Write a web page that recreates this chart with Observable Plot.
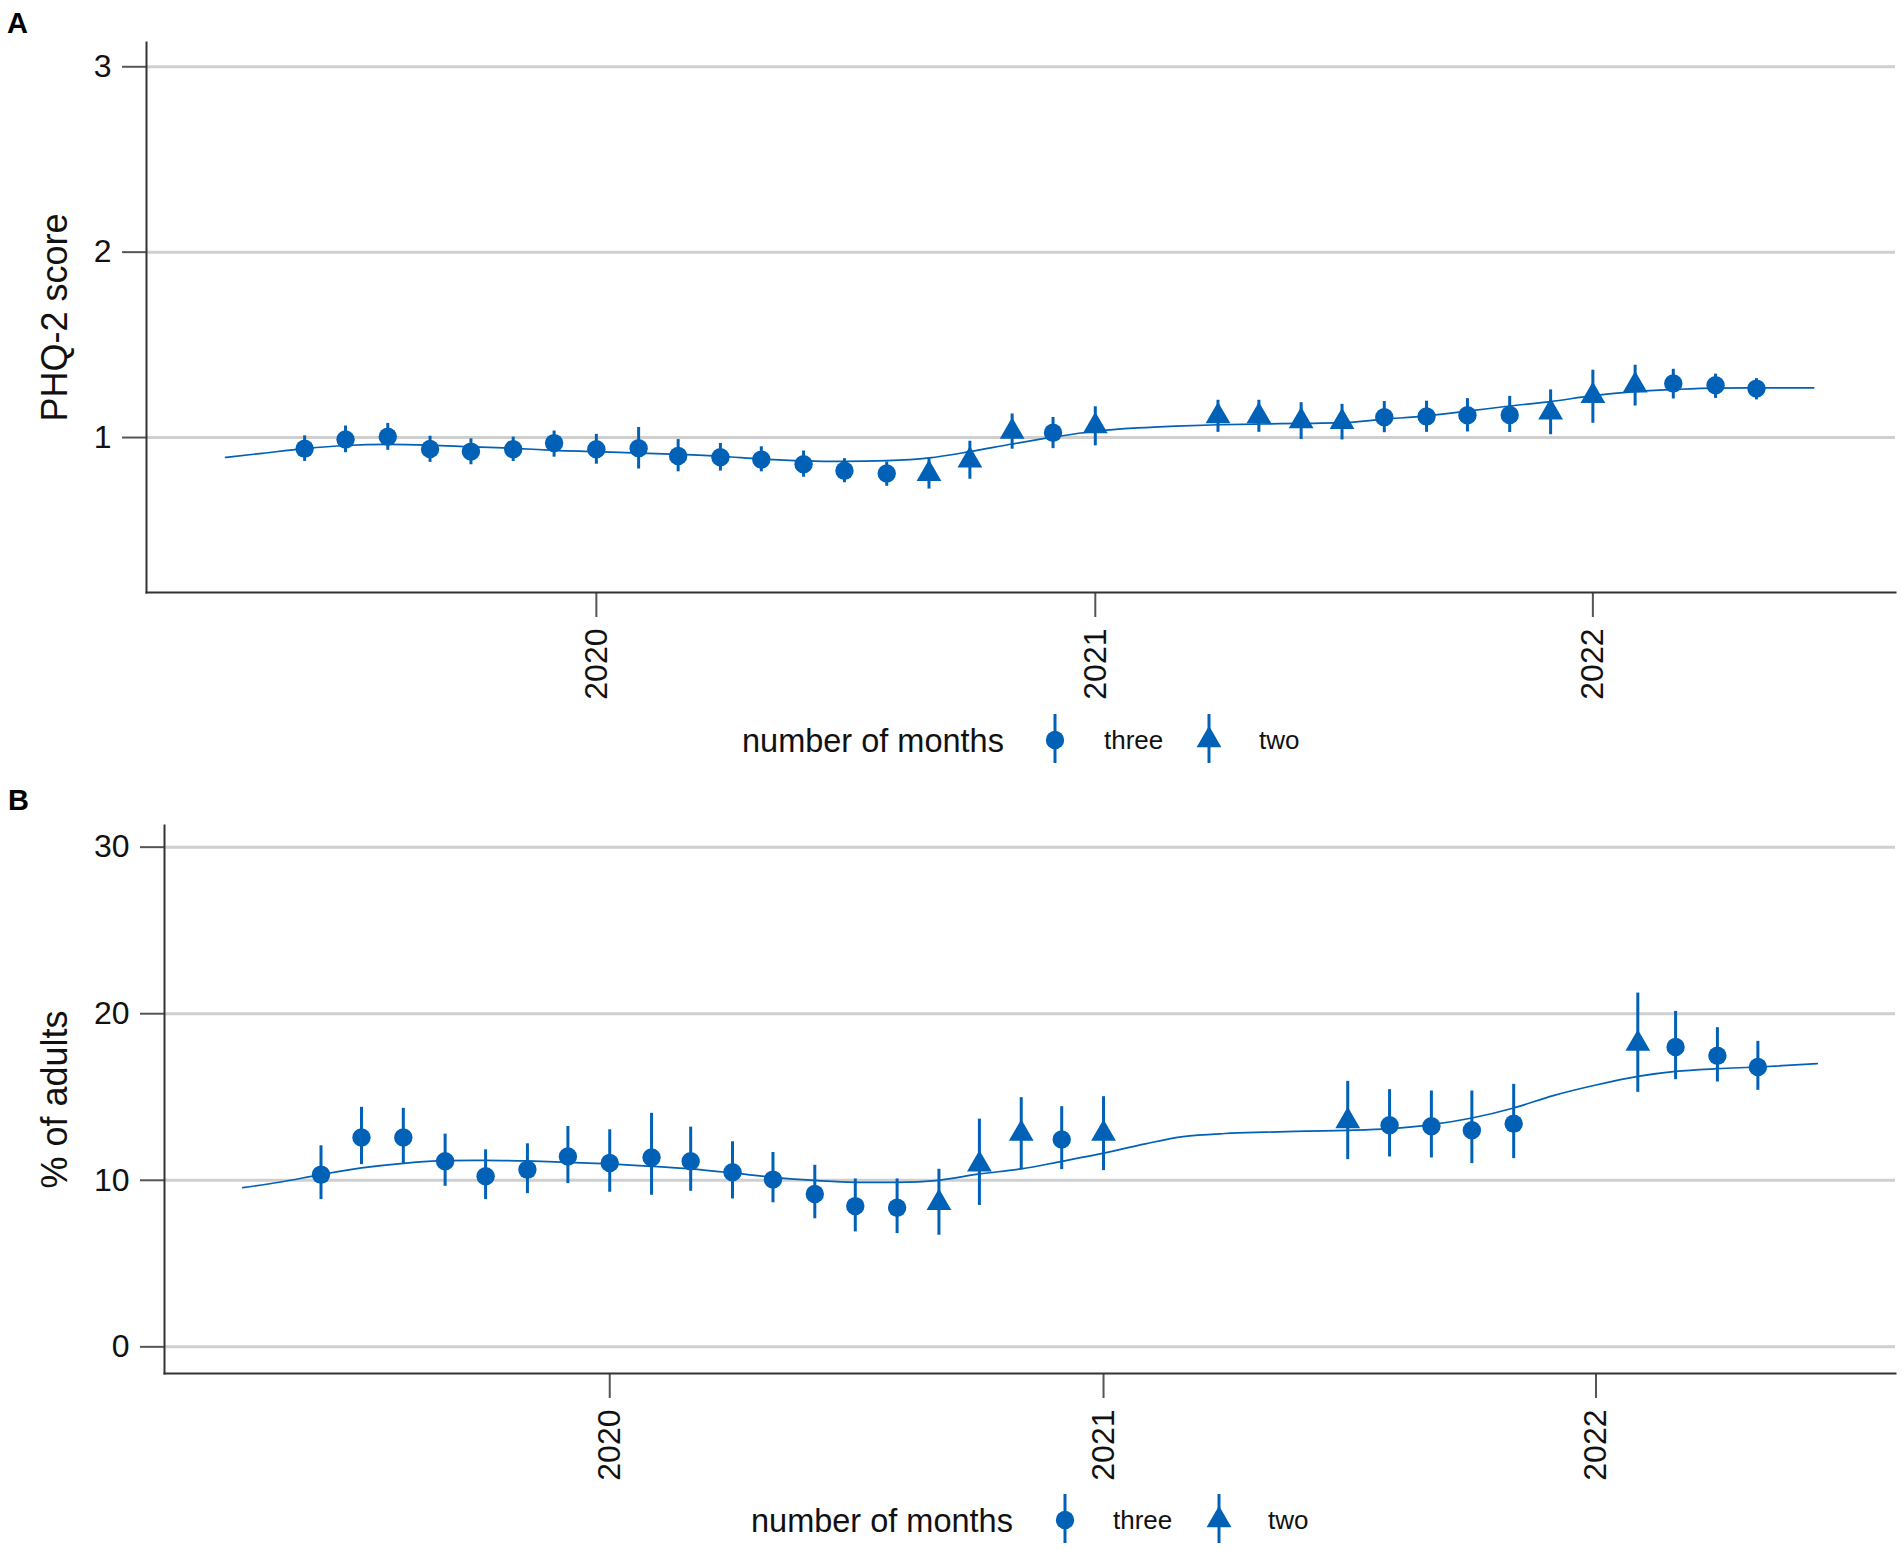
<!DOCTYPE html>
<html><head><meta charset="utf-8">
<script src="https://cdn.jsdelivr.net/npm/d3@7"></script>
<script src="https://cdn.jsdelivr.net/npm/@observablehq/plot@0.6"></script>
<style>
body{margin:0;background:#fff;}
#wrap{position:relative;width:1902px;height:1551px;overflow:hidden;background:#fff;font-family:"Liberation Sans",Arial,sans-serif;}
.panel{position:absolute;left:0;}
#overlay{position:absolute;left:0;top:0;pointer-events:none;}
</style></head><body><div id="wrap"></div>
<script>
// ---------- Panel A: PHQ-2 score ----------
const monthsA = ["2019-06","2019-07","2019-08","2019-09","2019-10","2019-11","2019-12","2020-01","2020-02","2020-03","2020-04","2020-05","2020-06","2020-07","2020-08","2020-09","2020-10","2020-11","2020-12","2021-01","2021-04","2021-05","2021-06","2021-07","2021-08","2021-09","2021-10","2021-11","2021-12","2022-01","2022-02","2022-03","2022-04","2022-05"];
const valuesA = [0.940,0.989,1.004,0.938,0.924,0.937,0.970,0.937,0.942,0.901,0.894,0.881,0.856,0.821,0.806,0.804,0.877,1.032,1.026,1.062,1.115,1.115,1.089,1.084,1.110,1.114,1.120,1.122,1.136,1.225,1.282,1.292,1.282,1.264];
const lowA    = [0.871,0.918,0.931,0.866,0.853,0.871,0.894,0.856,0.830,0.815,0.819,0.815,0.786,0.756,0.737,0.722,0.775,0.937,0.940,0.955,1.028,1.028,0.989,0.987,1.026,1.028,1.030,1.027,1.015,1.077,1.170,1.208,1.211,1.203];
const highA   = [1.009,1.062,1.076,1.007,0.993,1.002,1.035,1.017,1.054,0.989,0.968,0.950,0.927,0.886,0.868,0.886,0.980,1.127,1.108,1.166,1.201,1.201,1.188,1.179,1.194,1.196,1.210,1.222,1.257,1.363,1.390,1.368,1.342,1.318];
const typesA  = ["three","three","three","three","three","three","three","three","three","three","three","three","three","three","three","two","two","two","three","two","two","two","two","two","three","three","three","three","two","two","two","three","three","three"];
const smoothDatesA = ["2019-04-04","2019-05-01","2019-06-01","2019-07-01","2019-08-01","2019-09-01","2019-10-01","2019-11-01","2019-12-01","2020-01-01","2020-02-01","2020-03-01","2020-04-01","2020-05-01","2020-06-01","2020-07-01","2020-08-01","2020-09-01","2020-10-01","2020-11-01","2020-12-01","2021-01-01","2021-02-01","2021-03-01","2021-04-01","2021-05-01","2021-06-01","2021-07-01","2021-08-01","2021-09-01","2021-10-01","2021-11-01","2021-12-01","2022-01-01","2022-02-01","2022-03-01","2022-04-01","2022-05-01","2022-06-12"];
const smoothA = [0.893,0.915,0.940,0.957,0.963,0.959,0.950,0.942,0.931,0.924,0.916,0.909,0.899,0.884,0.874,0.871,0.875,0.890,0.924,0.965,1.002,1.034,1.052,1.062,1.069,1.073,1.076,1.080,1.099,1.117,1.142,1.170,1.194,1.226,1.248,1.259,1.267,1.268,1.268];
const yTicksA = [1, 2, 3];

// ---------- Panel B: % of adults ----------
const monthsB = ["2019-06","2019-07","2019-08","2019-09","2019-10","2019-11","2019-12","2020-01","2020-02","2020-03","2020-04","2020-05","2020-06","2020-07","2020-08","2020-09","2020-10","2020-11","2020-12","2021-01","2021-07","2021-08","2021-09","2021-10","2021-11","2022-02","2022-03","2022-04","2022-05"];
const valuesB = [10.34,12.57,12.57,11.14,10.24,10.64,11.43,11.04,11.37,11.14,10.48,10.04,9.18,8.45,8.35,8.65,10.95,12.80,12.45,12.80,13.55,13.30,13.24,13.00,13.40,18.20,18.00,17.48,16.80];
const lowB    = [8.84,10.94,11.00,9.64,8.84,9.20,9.80,9.28,9.10,9.34,8.88,8.65,7.69,6.90,6.80,6.70,8.49,10.64,10.64,10.58,11.24,11.40,11.34,11.00,11.30,15.28,16.04,15.90,15.40];
const highB   = [12.07,14.38,14.32,12.77,11.83,12.19,13.23,13.03,14.02,13.19,12.31,11.67,10.90,10.08,10.08,10.66,13.67,14.96,14.42,15.02,15.94,15.44,15.36,15.36,15.76,21.24,20.14,19.16,18.34];
const typesB  = ["three","three","three","three","three","three","three","three","three","three","three","three","three","three","three","two","two","two","three","two","two","three","three","three","three","two","three","three","three"];
const smoothDatesB = ["2019-04-04","2019-05-01","2019-06-01","2019-07-01","2019-08-01","2019-09-01","2019-10-01","2019-11-01","2019-12-01","2020-01-01","2020-02-01","2020-03-01","2020-04-01","2020-05-01","2020-06-01","2020-07-01","2020-08-01","2020-09-01","2020-10-01","2020-11-01","2020-12-01","2021-01-01","2021-02-01","2021-03-01","2021-04-01","2021-05-01","2021-06-01","2021-07-01","2021-08-01","2021-09-01","2021-10-01","2021-11-01","2021-12-01","2022-01-01","2022-02-01","2022-03-01","2022-04-01","2022-05-01","2022-06-14"];
const smoothB = [9.56,9.88,10.34,10.74,11.02,11.18,11.20,11.16,11.08,10.98,10.84,10.68,10.44,10.18,9.99,9.88,9.88,10.00,10.38,10.68,11.14,11.63,12.19,12.62,12.81,12.89,12.95,13.00,13.10,13.34,13.74,14.34,15.10,15.72,16.24,16.54,16.70,16.80,17.00];
const yTicksB = [0, 10, 20, 30];

// ---------- shared ----------
const xTickYears = ["2020", "2021", "2022"];
const legendTitle = "number of months";
const legendKeys = ["three", "two"];

const BLUE = "#0061b6";
const FONT = '"Liberation Sans", Arial, Helvetica, sans-serif';
const R = 9.2;
const parseM = d3.utcParse("%Y-%m");
const parseD = d3.utcParse("%Y-%m-%d");
const parseY = d3.utcParse("%Y");
const xDomain = [new Date(Date.UTC(2019, 1, 5)), new Date(Date.UTC(2022, 7, 11))];

function panel(o) {
  const data = o.months.map((m, i) => ({date: parseM(m), value: o.values[i], lo: o.low[i], hi: o.high[i], type: o.types[i]}));
  const smooth = o.sDates.map((d, i) => ({date: parseD(d), value: o.sValues[i]}));
  return Plot.plot({
    width: 1902, height: o.height,
    marginLeft: o.marginLeft, marginRight: 7, marginTop: o.marginTop, marginBottom: o.marginBottom,
    style: {fontFamily: FONT, fontSize: "32px", color: "#111", background: "#fff", overflow: "visible"},
    x: {type: "utc", domain: xDomain},
    y: {domain: o.yDomain},
    symbol: {domain: legendKeys, range: ["circle", "triangle"]},
    marks: [
      Plot.gridY(o.yTicks, {stroke: "#cfcfcf", strokeOpacity: 1, strokeWidth: 3}),
      Plot.axisY(o.yTicks, {tickSize: 24, tickPadding: 11, stroke: "#555", strokeWidth: 2, label: null, fontSize: 32, fill: "#111", tickFormat: d => String(d)}),
      Plot.axisX(xTickYears.map(parseY), {tickSize: 25, tickPadding: 11, tickRotate: -90, tickFormat: d3.utcFormat("%Y"), label: null, stroke: "#555", strokeWidth: 2, fontSize: 32, fill: "#111"}),
      Plot.frame({anchor: "left", stroke: "#333", strokeWidth: 2}),
      Plot.frame({anchor: "bottom", stroke: "#333", strokeWidth: 2}),
      Plot.text([o.yLabel], {frameAnchor: "left", dx: o.labelDx, rotate: -90, fontSize: 36, fill: "#111", textAnchor: "middle"}),
      Plot.line(smooth, {x: "date", y: "value", curve: "monotone-x", stroke: BLUE, strokeWidth: 1.7}),
      Plot.ruleX(data, {x: "date", y1: "lo", y2: "hi", stroke: BLUE, strokeWidth: 3}),
      Plot.dot(data, {x: "date", y: "value", symbol: "type", r: R, fill: BLUE, stroke: "none"})
    ]
  });
}

const wrap = document.getElementById("wrap");

const chartA = panel({
  months: monthsA, values: valuesA, low: lowA, high: highA, types: typesA,
  sDates: smoothDatesA, sValues: smoothA, yTicks: yTicksA, yDomain: [0.164, 3.131],
  yLabel: "PHQ-2 score", height: 700, marginLeft: 146, marginTop: 42, marginBottom: 108, labelDx: -91
});
chartA.classList.add("panel"); chartA.style.top = "0px";
wrap.appendChild(chartA);

const chartB = panel({
  months: monthsB, values: valuesB, low: lowB, high: highB, types: typesB,
  sDates: smoothDatesB, sValues: smoothB, yTicks: yTicksB, yDomain: [-1.6, 31.3],
  yLabel: "% of adults", height: 700, marginLeft: 164, marginTop: 35, marginBottom: 117, labelDx: -109
});
chartB.classList.add("panel"); chartB.style.top = "790px";
wrap.appendChild(chartB);

// ---------- overlay: panel tags and legends ----------
const svg = d3.select(wrap).append("svg").attr("id", "overlay")
  .attr("width", 1902).attr("height", 1551)
  .style("font-family", FONT);

svg.append("text").attr("x", 7).attr("y", 33).attr("font-size", 29).attr("font-weight", "bold").attr("fill", "#000").text("A");
svg.append("text").attr("x", 8).attr("y", 810).attr("font-size", 29).attr("font-weight", "bold").attr("fill", "#000").text("B");

function legend(cy, xTitle, xSym1, xKey1, xSym2, xKey2) {
  const g = svg.append("g");
  g.append("text").attr("x", xTitle).attr("y", cy + 11.5).attr("font-size", 32.5).attr("fill", "#111").text(legendTitle);
  const syms = [d3.symbolCircle, d3.symbolTriangle];
  const xs = [xSym1, xSym2];
  const xk = [xKey1, xKey2];
  legendKeys.forEach((k, i) => {
    g.append("line").attr("x1", xs[i]).attr("x2", xs[i]).attr("y1", cy - 26).attr("y2", cy + 23)
      .attr("stroke", BLUE).attr("stroke-width", 3);
    g.append("path").attr("transform", `translate(${xs[i]},${cy})`)
      .attr("d", d3.symbol(syms[i], Math.PI * R * R)()).attr("fill", BLUE);
    g.append("text").attr("x", xk[i]).attr("y", cy + 9).attr("font-size", 26).attr("fill", "#111").text(k);
  });
}
legend(740, 742, 1055, 1104, 1209, 1259);
legend(1520, 751, 1065, 1113, 1219, 1268);
</script>
</body></html>
